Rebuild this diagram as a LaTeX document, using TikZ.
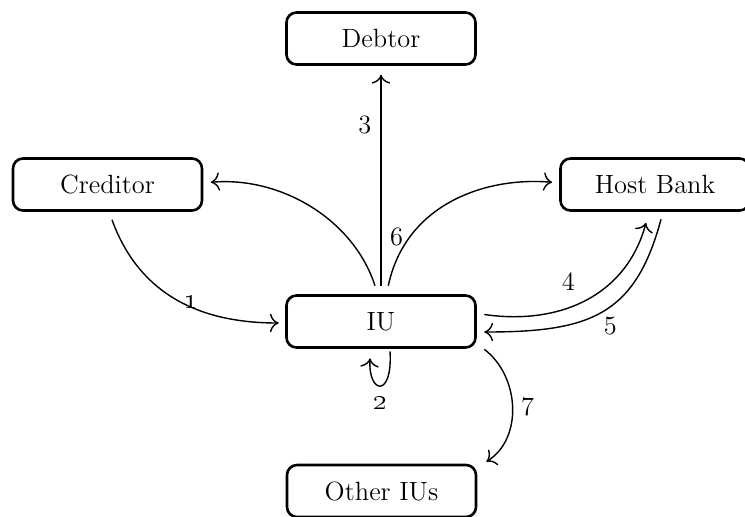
\documentclass[tikz,border=0pt]{standalone}
\usetikzlibrary{calc,arrows.meta}
\begin{document}
\begin{tikzpicture}[x=0.5pt,y=-0.5pt,
  box/.style={draw, line width=1.3pt, rounded corners=5pt, minimum width=94.5pt,
    minimum height=26pt, inner sep=0pt, font=\fontsize{13.2}{16}\selectfont},
  conn/.style={line width=0.7pt, -{To[scale=1.4]}},
  lbl/.style={font=\fontsize{13.2}{16}\selectfont, inner sep=1pt},
  olbl/.style={font=\fontsize{15}{18}\selectfont, inner sep=1pt}]
\useasboundingbox (0,0) rectangle (745,516);
\node[box] (debtor) at (381,38.5) {Debtor};
\node[box] (cred) at (107.5,184.5) {Creditor};
\node[box] (host) at (655,184.5) {Host Bank};
\node[box] (iu) at (381,321.5) {IU};
\node[box] (other) at (381.5,491) {Other IUs};
% 1
\draw[conn] ($(cred.south)+(4.5,8)$) .. controls +(24,66) and +(-90,0) ..
  node[olbl,pos=0.62,above=-2pt]{\oldstylenums{1}} ($(iu.west)+(-6.5,1.5)$);
% 2
\draw[conn] ($(iu.south)+(9,2.5)$) .. controls +(3,47) and +(-2,36) ..
  node[olbl,pos=0.5,below=4pt]{\oldstylenums{2}} ($(iu.south)+(-11,9.5)$);
% 3
\draw[conn] ($(iu.north)+(0,-8.5)$) -- node[lbl,pos=0.76,left=3.5pt]{3} ($(debtor.south)+(0,9)$);
% 6
\draw[conn] ($(iu.north)+(-6,-8.5)$) .. controls +(-21.6,-66.6) and +(69.7,-6.1) .. ($(cred.east)+(7.5,-2.2)$);
\draw[conn] ($(iu.north)+(7.3,-8.5)$) .. controls +(17.7,-83.1) and +(-64.7,-5.7) ..
  node[lbl,pos=0.23,left=2pt]{6} ($(host.west)+(-7,-2.2)$);
% 4
\draw[conn] ($(iu.east)+(7.5,-7)$) .. controls +(76,11) and +(-19.4,72.5) ..
  node[lbl,pos=0.4,above=7.5pt]{4} ($(host.south)+(-9,11)$);
% 5
\draw[conn] ($(host.south)+(6,7.5)$) .. controls +(-25.9,96.6) and +(105,0) ..
  node[lbl,pos=0.45,below=4pt]{5} ($(iu.east)+(7.5,10.5)$);
% 7
\draw[conn] ($(iu.south east)+(7.5,0.5)$) to[out=-37,in=32]
  node[lbl,pos=0.5,right=3pt]{7} ($(other.north east)+(9,-2)$);
\end{tikzpicture}
\end{document}
